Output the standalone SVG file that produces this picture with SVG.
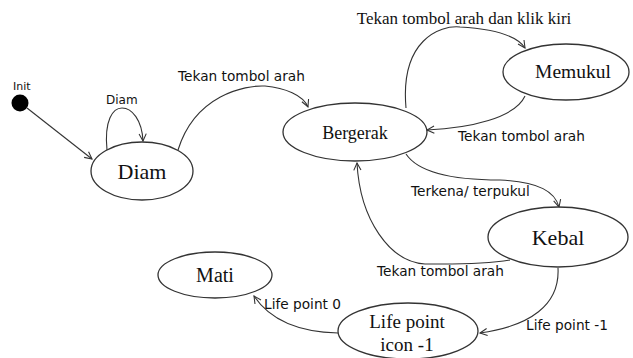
<svg xmlns="http://www.w3.org/2000/svg" width="633" height="358" viewBox="0 0 633 358">
<defs>
<marker id="arr" viewBox="0 0 10 10" refX="9" refY="5" markerWidth="9" markerHeight="9" orient="auto" markerUnits="userSpaceOnUse">
<path d="M1,1 L9,5 L1,9" fill="none" stroke="#333" stroke-width="1.2"/>
</marker>
<style>
.node{fill:#fff;stroke:#333;stroke-width:1.3}
.nt{font-family:"Liberation Serif",serif;fill:#111;text-anchor:middle}
.e{fill:none;stroke:#333;stroke-width:1.1;marker-end:url(#arr)}
.el{font-family:"DejaVu Sans",sans-serif;font-size:13.7px;fill:#111}
</style>
</defs>
<rect width="633" height="358" fill="#fff"/>
<g id="connectors">
<path class="e" d="M27,108 L92,159"/>
<path class="e" d="M107,150 C104,120 113,108 122,108 C132,108 142,120 143,141"/>
<path class="e" d="M178,150 C195,95 245,85 265,86 C285,88 303,95 308,107"/>
<path class="e" d="M406,108 C400,40 440,25 460,27 C495,29 517,36 525,48"/>
<path class="e" d="M525,96 C515,118 470,128 427,130"/>
<path class="e" d="M406,154 C420,175 460,180 500,180 C540,182 555,192 559,207"/>
<path class="e" d="M510,260 C480,265 450,264 425,264 C390,262 360,220 357,163"/>
<path class="e" d="M558,268 C560,305 530,326 480,333"/>
<path class="e" d="M338,333 C300,332 270,320 254,296"/>
</g>
<g id="init">
<circle cx="20" cy="103" r="8.5" fill="#000"/>
<text class="el" x="13" y="90" style="font-size:11px">Init</text>
</g>
<g id="diam">
<ellipse class="node" cx="142" cy="171" rx="51" ry="29"/>
<text class="nt" x="142" y="179" font-size="22">Diam</text>
</g>
<g id="bergerak">
<ellipse class="node" cx="355" cy="132" rx="72" ry="29"/>
<text class="nt" x="355" y="139" font-size="18">Bergerak</text>
</g>
<g id="memukul">
<ellipse class="node" cx="566" cy="72" rx="63" ry="28"/>
<text class="nt" x="573" y="78" font-size="19.5">Memukul</text>
</g>
<g id="kebal">
<ellipse class="node" cx="558" cy="237" rx="70" ry="30"/>
<text class="nt" x="558" y="245" font-size="22">Kebal</text>
</g>
<g id="mati">
<ellipse class="node" cx="215" cy="275" rx="57" ry="23"/>
<text class="nt" x="215" y="282" font-size="20">Mati</text>
</g>
<g id="lifepoint">
<ellipse class="node" cx="408" cy="331" rx="70" ry="28"/>
<text class="nt" x="407" y="328" font-size="19">Life point</text>
<text class="nt" x="407" y="351" font-size="19">icon -1</text>
</g>
<g id="labels">
<text class="el" x="106" y="104" style="font-size:12px">Diam</text>
<text class="el" x="178" y="81">Tekan tombol arah</text>
<text class="nt" x="464" y="24" font-size="17">Tekan tombol arah dan klik kiri</text>
<text class="el" x="458" y="141">Tekan tombol arah</text>
<text class="el" x="411" y="196">Terkena/ terpukul</text>
<text class="el" x="377" y="276">Tekan tombol arah</text>
<text class="el" x="526" y="330">Life point -1</text>
<text class="el" x="264" y="309">Life point 0</text>
</g>
</svg>
